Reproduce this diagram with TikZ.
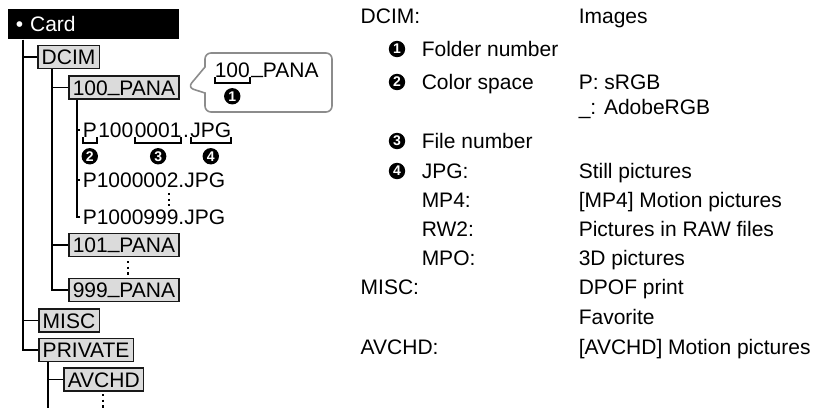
\documentclass[tikz,border=0pt]{standalone}
\usepackage{fontspec}
\setmainfont{Liberation Sans}
\usetikzlibrary{positioning, shapes.callouts}

% underscore sitting on the baseline, as in the folder names
\newcommand{\bus}{\raisebox{1.8pt}{\_}}
% bracket under a piece of a file name, with its number below
\newcommand{\numbrace}[3]{%
  \draw[brace] ([xshift=0.5pt,yshift=0.5pt]#1.south west) |- ([yshift=-2.5pt]#1.south)
    -| ([xshift=-0.5pt,yshift=0.5pt]#1.south east);
  \node[num] (#2) at ([yshift=-9pt]#1.south) {#3};}

\begin{document}
\begin{tikzpicture}[x=0.5pt, y=-0.5pt, font=\fontsize{10.5}{12}\selectfont, line width=0.75pt,
    txt/.style={inner sep=0pt, text height=7.5pt, text depth=0pt, anchor=west},
    fold/.style={draw=black!90, fill=black!14, line width=0.75pt, inner xsep=2pt, inner ysep=0pt,
      minimum height=11.5pt, text height=7.5pt, text depth=0pt, anchor=west},
    num/.style={circle, fill=black, text=white, inner sep=0pt, minimum size=8.2pt,
      font=\fontsize{7}{7}\selectfont\bfseries},
    brace/.style={line width=1pt},
    dots/.style={line width=1.2pt, dash pattern=on 1.2pt off 1.6pt},
    bubble/.style={rectangle callout, draw=black!45, fill=white, line width=0.8pt,
      rounded corners=3pt, minimum width=63.5pt, minimum height=29.5pt,
      callout pointer width=13pt}]
  \useasboundingbox (0,0) rectangle (816,408);
  % ---- folder tree ----
  \node[fill=black, text=white, anchor=north west, minimum height=15pt, text width=77.5pt,
    inner xsep=4pt, inner ysep=0pt, align=left, text height=7.5pt, text depth=0pt]
    (card) at (7,8) {\textbullet\ Card};
  \node[fold] (dcim)    at (37,57)    {DCIM};
  \node[fold] (p100)    at (68,87.5)  {100\bus PANA};
  \node[fold] (p101)    at (68,245)   {101\bus PANA};
  \node[fold] (p999)    at (68,290)   {999\bus PANA};
  \node[fold] (misc)    at (38,320.5) {MISC};
  \node[fold] (private) at (38,350)   {PRIVATE};
  \node[fold] (avchd)   at (63,379.5) {AVCHD};
  % file names
  \node[txt] (fa) at (82,130) {P};
  \node[txt, right=0pt of fa] (fb) {100};
  \node[txt, right=0pt of fb] (fc) {0001};
  \node[txt, right=0pt of fc] (fd) {.};
  \node[txt, right=0pt of fd] (fe) {JPG};
  \numbrace{fa}{c2}{2}
  \numbrace{fc}{c3}{3}
  \numbrace{fe}{c4}{4}
  \node[txt] (f2)   at (82,180) {P1000002.JPG};
  \node[txt] (f999) at (82,217) {P1000999.JPG};
  % tree lines
  \coordinate (tc) at ([xshift=8pt]card.south west);
  \draw (tc) |- (private.west);
  \foreach \n in {dcim, misc} \draw (\n.west) -- (\n.west -| tc);
  \coordinate (td) at ([xshift=7.5pt]dcim.south west);
  \draw (td) |- (p999.west);
  \foreach \n in {p100, p101} \draw (\n.west) -- (\n.west -| td);
  \coordinate (tp) at ([xshift=4.5pt]p100.south west);
  \draw (tp) |- ([xshift=-1pt]f999.west);
  \foreach \n in {fa, f2} \draw ([xshift=-1pt]\n.west) -- (\n.west -| tp);
  \coordinate (tv) at ([xshift=5pt]private.south west);
  \draw (tv) -- ++(0,47);
  \draw (avchd.west) -- (avchd.west -| tv);
  \draw[dots] (169,193) -- (169,206);
  \draw[dots] (128,261) -- (128,275);
  \draw[dots] (103,394) -- (103,408);
  % callout
  \node[bubble, callout absolute pointer={([xshift=4pt]p100.east)}] (bub) at (268.5,82.5) {};
  \node[txt] (ba) at (214,70) {100};
  \node[txt, right=0pt of ba] (bb) {\bus PANA};
  \numbrace{ba}{c1}{1}
  % ---- legend ----
  \node[txt] (kdcim) at (360,16) {DCIM:};
  \node[txt] (vdcim) at (578,16) {Images};
  \node[num] (d1) at (397,49)  {1};
  \node[txt] (kfold) at (421,49) {Folder number};
  \node[num] (d2) at (397,82)  {2};
  \node[txt] (kcol) at (421,82) {Color space};
  \node[txt] (vsrgb) at (578,82) {P: sRGB};
  \node[txt] (vadobe) at (578,107) {\_: AdobeRGB};
  \node[num] (d3) at (397,141) {3};
  \node[txt] (kfile) at (421,141) {File number};
  \node[num] (d4) at (397,171) {4};
  \node[txt] (kjpg) at (421,171) {JPG:};
  \node[txt] (vjpg) at (578,171) {Still pictures};
  \node[txt] (kmp4) at (421,200) {MP4:};
  \node[txt] (vmp4) at (578,200) {[MP4] Motion pictures};
  \node[txt] (krw2) at (421,229) {RW2:};
  \node[txt] (vrw2) at (578,229) {Pictures in RAW files};
  \node[txt] (kmpo) at (421,258) {MPO:};
  \node[txt] (vmpo) at (578,258) {3D pictures};
  \node[txt] (kmisc) at (360,287) {MISC:};
  \node[txt] (vmisc) at (578,287) {DPOF print};
  \node[txt] (vfav) at (578,317) {Favorite};
  \node[txt] (kavc) at (360,347) {AVCHD:};
  \node[txt] (vavc) at (578,347) {[AVCHD] Motion pictures};
\end{tikzpicture}
\end{document}
